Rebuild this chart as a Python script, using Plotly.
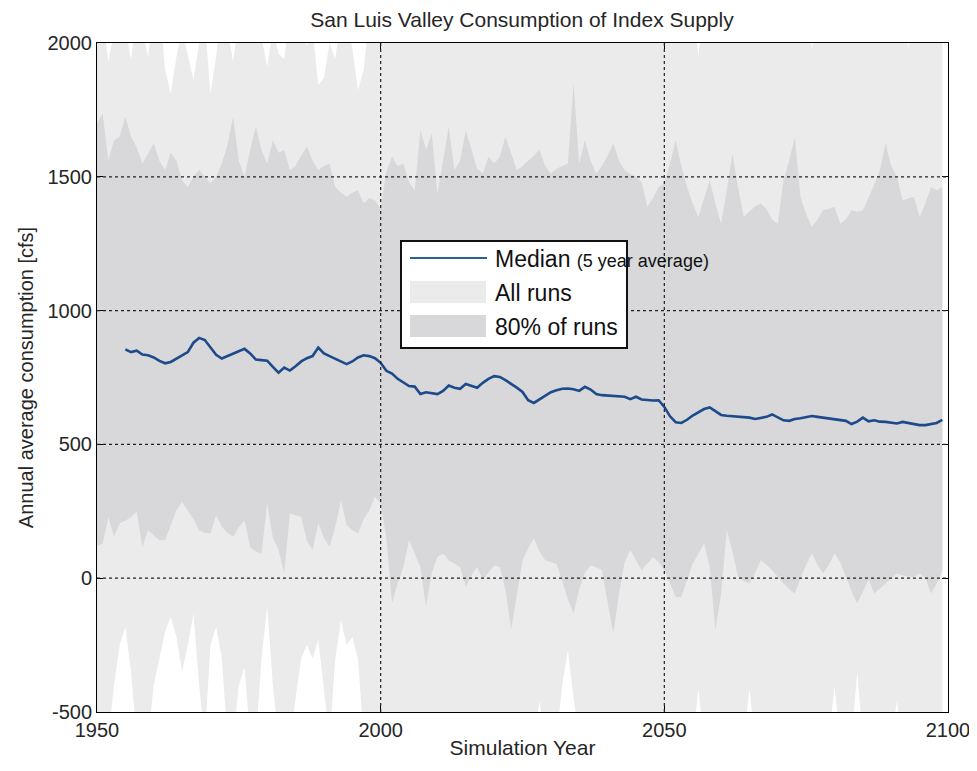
import plotly.graph_objects as go

# simulation years shown on the x axis
years = list(range(1950, 2100))
median_years = list(range(1955, 2100))

# highest run each year (values above 2000 are cut off by the axis)
all_max = [
    2150, 2100, 1930, 2050, 2150, 2050, 1940, 2100, 2050, 1950,
    2100, 2150, 1900, 1811, 1950, 2050, 1950, 1861, 2000, 2080,
    1811, 1950, 2150, 2050, 1930, 2100, 2150, 2150, 2080, 2020,
    1911, 2050, 1960, 1940, 2100, 2150, 2050, 1990, 2050, 1842,
    1870, 2000, 1940, 2100, 2080, 1980, 1824, 1900, 2100, 2050,
    2150, 2150, 2150, 2150, 2150, 2150, 2150, 2150, 2150, 2150,
    2150, 2150, 2150, 2150, 2150, 2150, 2150, 2150, 2150, 2150,
    2150, 2150, 2150, 2150, 2150, 2150, 2150, 2150, 2150, 2150,
    2150, 2150, 2150, 2150, 2150, 2150, 2150, 2150, 2150, 2150,
    2150, 2150, 2150, 2150, 2150, 2150, 2150, 2150, 2150, 2150,
    2150, 2150, 2150, 2150, 2150, 2150, 1950, 2150, 2150, 2150,
    2150, 2150, 2150, 2150, 2150, 2150, 2150, 2150, 2150, 2150,
    2150, 2150, 2150, 2150, 2150, 2150, 1975, 2150, 2150, 2150,
    2150, 2150, 2150, 2150, 2150, 2150, 2150, 2150, 2150, 2150,
    2150, 2150, 2150, 1980, 2150, 2150, 2150, 2150, 2150, 2150,
]

# lowest run each year (values below -500 are cut off by the axis)
all_min = [
    -600, -600, -600, -400, -250, -182, -350, -600, -600, -600,
    -400, -300, -200, -144, -220, -350, -250, -132, -400, -600,
    -250, -182, -300, -600, -600, -400, -331, -600, -600, -300,
    -107, -400, -600, -600, -600, -450, -300, -250, -300, -230,
    -400, -600, -300, -157, -250, -220, -300, -600, -600, -600,
    -600, -600, -600, -600, -600, -600, -600, -600, -600, -600,
    -600, -600, -600, -600, -600, -600, -600, -600, -600, -600,
    -600, -600, -600, -600, -600, -600, -600, -600, -460, -600,
    -600, -600, -400, -269, -450, -600, -600, -600, -600, -600,
    -600, -600, -600, -600, -600, -600, -600, -600, -600, -600,
    -600, -600, -600, -600, -600, -600, -418, -600, -600, -600,
    -600, -600, -600, -600, -600, -418, -600, -600, -600, -600,
    -600, -600, -600, -600, -600, -600, -600, -600, -600, -600,
    -405, -600, -600, -600, -350, -600, -600, -600, -600, -600,
    -600, -460, -600, -600, -600, -600, -600, -600, -600, -600,
]

# upper edge of the 80% band
p90 = [
    1700, 1737, 1560, 1637, 1650, 1724, 1650, 1610, 1550, 1590,
    1625, 1560, 1525, 1590, 1560, 1487, 1462, 1500, 1525, 1500,
    1476, 1500, 1550, 1620, 1724, 1560, 1500, 1600, 1687, 1600,
    1550, 1637, 1590, 1600, 1525, 1540, 1580, 1612, 1560, 1525,
    1540, 1550, 1462, 1440, 1425, 1440, 1450, 1401, 1420, 1412,
    1380, 1520, 1575, 1540, 1550, 1480, 1450, 1674, 1600, 1662,
    1437, 1560, 1687, 1525, 1560, 1674, 1600, 1530, 1512, 1575,
    1550, 1575, 1650, 1590, 1525, 1540, 1562, 1580, 1600, 1540,
    1512, 1530, 1540, 1550, 1849, 1550, 1637, 1560, 1512, 1540,
    1580, 1625, 1560, 1525, 1510, 1500, 1480, 1388, 1420, 1462,
    1475, 1550, 1637, 1540, 1462, 1400, 1350, 1420, 1487, 1400,
    1325, 1450, 1587, 1460, 1350, 1370, 1390, 1400, 1380, 1340,
    1325, 1487, 1560, 1650, 1425, 1360, 1312, 1340, 1375, 1380,
    1388, 1325, 1340, 1375, 1370, 1375, 1420, 1470, 1525, 1625,
    1540, 1500, 1412, 1420, 1425, 1350, 1400, 1462, 1450, 1462,
]

# lower edge of the 80% band
p10 = [
    120, 130, 229, 155, 205, 215, 229, 248, 117, 179,
    160, 142, 142, 200, 254, 285, 254, 220, 179, 170,
    167, 235, 192, 170, 155, 190, 217, 117, 100, 92,
    279, 150, 105, 18, 242, 235, 229, 140, 105, 205,
    150, 117, 192, 291, 200, 179, 167, 220, 254, 304,
    279, 150, -95, -20, 42, 142, 90, 42, -107, 20,
    79, 92, 67, 55, 42, -32, 10, 42, -6, 20,
    48, 42, -44, -194, -60, 67, 110, 148, 100, 67,
    60, 54, -10, -80, -132, -40, 20, 48, 40, 30,
    -90, -207, -60, 60, 105, 70, 30, 55, 79, 60,
    30, -20, -70, -70, -10, 54, 90, 130, 40, -194,
    -60, 179, 100, 5, -10, -20, 20, 67, 50, 30,
    5, -20, -40, -57, 0, 50, 92, 50, 18, 50,
    92, 60, 5, -50, -95, -50, -6, -57, -40, -20,
    0, 18, 10, 5, 5, 18, 0, -57, -20, 30,
]

# median of all runs, 5 year running average
median_5yr = [
    855, 845, 850, 836, 833,
    825, 812, 803, 808, 820, 832, 845, 880, 898, 890,
    862, 835, 821, 830, 840, 848, 857, 840, 817, 815,
    813, 790, 768, 787, 776, 792, 810, 822, 830, 862,
    840, 830, 820, 810, 800, 810, 825, 833, 830, 822,
    805, 775, 765, 745, 730, 718, 716, 688, 695, 692,
    688, 700, 720, 712, 708, 726, 720, 712, 730, 745,
    755, 752, 740, 727, 712, 696, 665, 655, 668, 684,
    695, 702, 708, 709, 706, 700, 715, 705, 688, 684,
    682, 680, 680, 678, 669, 678, 668, 665, 664, 665,
    640, 605, 583, 580, 592, 608, 621, 632, 638, 625,
    610, 607, 605, 603, 600, 600, 595, 600, 603, 612,
    600, 590, 588, 595, 598, 603, 606, 603, 600, 598,
    596, 592, 588, 576, 585, 600, 586, 590, 585, 584,
    580, 578, 584, 580, 574, 572, 572, 575, 580, 592,
]

x_ticks = [1950, 2000, 2050, 2100]
y_ticks = [-500, 0, 500, 1000, 1500, 2000]
y_ticktext = ["-500", "0", "500", "1000", "1500", "2000"]
x_grid = [2000, 2050]
y_grid = [0, 500, 1000, 1500]

ALL_COLOR = "#ebebeb"
BAND_COLOR = "#d8d8da"
LINE_COLOR = "#1c4a8a"
TEXT_COLOR = "#262626"
FONT = "Liberation Sans, Arial, sans-serif"

# the page body adds an 8px margin; keep the figure inside the window
# so no scrollbar appears, and place the plot area in window pixels
OFF = 8
W, H = 977 - OFF, 771 - 2 * OFF - 4
PLOT_L, PLOT_R, PLOT_T, PLOT_B = 97, 948, 43, 712
PW, PH = PLOT_R - PLOT_L, PLOT_B - PLOT_T


def px(x):
    return (x - PLOT_L) / PW


def py(y):
    return (PLOT_B - y) / PH


fig = go.Figure()

fig.add_trace(go.Scatter(x=years, y=all_min, mode="lines",
                         line=dict(width=0), showlegend=False, hoverinfo="skip"))
fig.add_trace(go.Scatter(x=years, y=all_max, mode="lines", fill="tonexty",
                         fillcolor=ALL_COLOR, line=dict(width=0),
                         name="All runs", showlegend=False))
fig.add_trace(go.Scatter(x=years, y=p10, mode="lines",
                         line=dict(width=0), showlegend=False, hoverinfo="skip"))
fig.add_trace(go.Scatter(x=years, y=p90, mode="lines", fill="tonexty",
                         fillcolor=BAND_COLOR, line=dict(width=0),
                         name="80% of runs", showlegend=False))
fig.add_trace(go.Scatter(x=median_years, y=median_5yr, mode="lines",
                         line=dict(color=LINE_COLOR, width=2.6),
                         name="Median (5 year average)", showlegend=False))

# dotted grid drawn on top of the filled areas
for gx in x_grid:
    fig.add_shape(type="line", xref="x", yref="paper", x0=gx, x1=gx, y0=0, y1=1,
                  line=dict(color="#222222", width=1.2, dash="dot"), layer="above")
for gy in y_grid:
    fig.add_shape(type="line", xref="paper", yref="y", x0=0, x1=1, y0=gy, y1=gy,
                  line=dict(color="#222222", width=1.2, dash="dot"), layer="above")

# legend box
fig.add_shape(type="rect", xref="paper", yref="paper",
              x0=px(401), x1=px(627), y0=py(348), y1=py(241),
              fillcolor="white", line=dict(color="#111111", width=2), layer="above")
fig.add_shape(type="line", xref="paper", yref="paper",
              x0=px(410), x1=px(487), y0=py(258), y1=py(258),
              line=dict(color="#2d5f9a", width=2), layer="above")
fig.add_shape(type="rect", xref="paper", yref="paper",
              x0=px(410), x1=px(486), y0=py(303), y1=py(281),
              fillcolor=ALL_COLOR, line=dict(width=0), layer="above")
fig.add_shape(type="rect", xref="paper", yref="paper",
              x0=px(410), x1=px(486), y0=py(337), y1=py(315),
              fillcolor=BAND_COLOR, line=dict(width=0), layer="above")

legend_labels = [
    ("Median <span style='font-size:18px'>(5 year average)</span>", 259),
    ("All runs", 293),
    ("80% of runs", 327),
]
for text, ypix in legend_labels:
    fig.add_annotation(text=text, xref="paper", yref="paper", x=px(493), y=py(ypix),
                       xanchor="left", yanchor="middle", showarrow=False,
                       font=dict(family=FONT, size=23, color="#111111"))

axis_style = dict(showline=True, linecolor="black", linewidth=1, mirror="allticks",
                  ticks="inside", ticklen=6, tickcolor="black", tickwidth=1.2,
                  showgrid=False, zeroline=False, automargin=False,
                  tickfont=dict(family=FONT, size=20, color=TEXT_COLOR))

fig.update_layout(
    width=W, height=H,
    margin=dict(l=PLOT_L - OFF, r=977 - PLOT_R, t=PLOT_T - OFF, b=H + OFF - PLOT_B),
    paper_bgcolor="white", plot_bgcolor="white",
    showlegend=False,
    title=dict(text="San Luis Valley Consumption of Index Supply",
               x=px(522), xanchor="center", xref="paper",
               y=1 - (20 - OFF) / H, yanchor="middle",
               font=dict(family=FONT, size=21, color=TEXT_COLOR)),
    xaxis=dict(range=[1950, 2100], tickvals=x_ticks,
               title=dict(text="Simulation Year", standoff=6,
                          font=dict(family=FONT, size=21, color=TEXT_COLOR)),
               **axis_style),
    yaxis=dict(range=[-500, 2000], tickvals=y_ticks, ticktext=y_ticktext,
               title=dict(text="Annual average consumption [cfs]", standoff=8,
                          font=dict(family=FONT, size=20, color=TEXT_COLOR)),
               **axis_style),
)

fig.write_html("out.html")
